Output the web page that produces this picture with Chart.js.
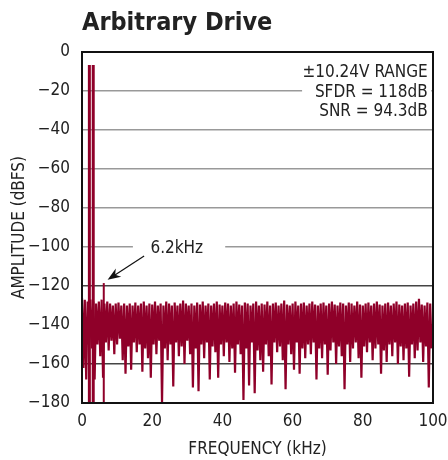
<!DOCTYPE html>
<html>
<head>
<meta charset="utf-8">
<script src="https://cdn.jsdelivr.net/npm/chart.js@4.4.1/dist/chart.umd.min.js"></script>
<style>
  body { margin: 0; background: #fff; }
</style>
</head>
<body>
<canvas id="fft" width="448" height="460"></canvas>
<script>
// spectrum: noise floor bins (0.4 kHz apart), alternating upper / lower excursions
const binWidth = 0.4
const noise = [
  -126, -162, -127, -168, -128, -150, -127, -152, -128, -168,
  -129, -150, -128, -156, -127, -167, -129, -149, -128, -153,
  -129, -148, -130, -155, -129, -150, -128.5, -147, -130, -158,
  -129, -165, -130, -151, -129, -163, -130, -149, -128.5, -154,
  -130, -150, -129, -164, -128, -152, -130, -157, -129, -167,
  -129.5, -150, -128, -155, -130, -148, -129, -180, -130, -152,
  -128, -158, -129, -150, -130, -171.5, -128.5, -149, -130, -156,
  -129, -151, -127.5, -160, -129, -148, -130, -155, -129, -172,
  -130, -152, -128.5, -174, -129.5, -150, -128, -157, -130, -149,
  -129, -168, -130, -151, -129, -154, -128, -167, -129.5, -150,
  -130, -156, -128.5, -149, -129, -159, -130, -152, -129, -164.5,
  -128, -150, -129.5, -155, -130, -178.5, -128.5, -152, -129, -171,
  -130, -149, -129, -175, -128, -153, -130, -158, -129, -164,
  -129.5, -150, -128, -156, -130, -170.5, -129, -149, -128.5, -154,
  -130, -151, -129, -158, -127.5, -173, -129.5, -150, -130, -155,
  -129, -163, -128, -149, -130, -165, -129, -152, -128.5, -157,
  -130, -150, -129, -155, -128, -149, -129.5, -168, -130, -152,
  -129, -157, -128.5, -150, -130, -165.5, -129, -153, -128, -149,
  -129.5, -160, -130, -151, -128.5, -156, -129, -173, -130, -150,
  -128.5, -159, -129, -152, -130, -149, -128, -157, -129.5, -167,
  -130, -151, -129, -154, -128.5, -149, -130, -158, -129, -152,
  -128, -150, -129.5, -165, -130, -153, -129, -159, -128.5, -150,
  -130, -156, -129, -149, -128, -160, -129.5, -151, -130, -158,
  -129, -152, -128.5, -166.5, -130, -150, -129, -157, -128, -153,
  -126.5, -149, -129.5, -159, -130, -151, -128.5, -172, -129, -152
]

// the two drive tones and the largest spur
const toneFreqs = [2.1, 3.2]
const toneLevels = [-6.7, -6.7]
const spurFreqs = [6.2]
const spurLevels = [-118.5]

const xTicks = [0, 20, 40, 60, 80, 100]
const yTicks = [0, -20, -40, -60, -80, -100, -120, -140, -160, -180]
const noteLines = ['±10.24V RANGE', 'SFDR = 118dB', 'SNR = 94.3dB']
const spurNote = '6.2kHz'

const RED = '#8f0029'
const FONT = '"Liberation Sans Narrow", "DejaVu Sans Condensed", "Liberation Sans", sans-serif'

const noisePts = noise.map((v, i) => ({ x: i * binWidth, y: v }))
function sticks(freqs, levels) {
  const pts = []
  freqs.forEach((f, i) => {
    pts.push({ x: f, y: -180 }, { x: f, y: levels[i] }, { x: f, y: null })
  })
  return pts
}

const notes = {
  id: 'notes',
  beforeDatasetsDraw(chart) {
    const { ctx, scales: { x, y } } = chart
    ctx.save()
    ctx.fillStyle = '#fff'
    // white boxes that interrupt the grid lines
    ctx.fillRect(x.getPixelForValue(62.7), y.getPixelForValue(-1.5), x.getPixelForValue(99.5) - x.getPixelForValue(62.7), y.getPixelForValue(-35) - y.getPixelForValue(-1.5))
    ctx.fillRect(x.getPixelForValue(14.5), y.getPixelForValue(-95), x.getPixelForValue(40.8) - x.getPixelForValue(14.5), y.getPixelForValue(-106) - y.getPixelForValue(-95))
    ctx.restore()
  },
  afterDatasetsDraw(chart) {
    const { ctx, chartArea: a, scales: { x, y } } = chart
    ctx.save()
    // frame
    ctx.strokeStyle = '#111'
    ctx.lineWidth = 2
    ctx.strokeRect(a.left, a.top, a.right - a.left, a.bottom - a.top)

    ctx.fillStyle = '#222'
    ctx.font = '17px ' + FONT
    ctx.textAlign = 'right'
    ctx.textBaseline = 'alphabetic'
    const baseY = [-12.8, -23.1, -32.8]
    noteLines.forEach((t, i) => ctx.fillText(t, x.getPixelForValue(98.5), y.getPixelForValue(baseY[i])))

    ctx.textAlign = 'center'
    ctx.textBaseline = 'middle'
    ctx.fillText(spurNote, x.getPixelForValue(27), y.getPixelForValue(-101))

    // arrow to the spur
    const x0 = x.getPixelForValue(17.7), y0 = y.getPixelForValue(-104.6)
    const x1 = x.getPixelForValue(7.3), y1 = y.getPixelForValue(-116.8)
    const ang = Math.atan2(y1 - y0, x1 - x0)
    ctx.strokeStyle = '#111'
    ctx.lineWidth = 1.2
    ctx.beginPath()
    ctx.moveTo(x0, y0)
    ctx.lineTo(x1 - 6 * Math.cos(ang), y1 - 6 * Math.sin(ang))
    ctx.stroke()
    ctx.beginPath()
    ctx.moveTo(x1, y1)
    ctx.lineTo(x1 - 13 * Math.cos(ang) + 5 * Math.sin(ang), y1 - 13 * Math.sin(ang) - 5 * Math.cos(ang))
    ctx.lineTo(x1 - 9 * Math.cos(ang), y1 - 9 * Math.sin(ang))
    ctx.lineTo(x1 - 13 * Math.cos(ang) - 5 * Math.sin(ang), y1 - 13 * Math.sin(ang) + 5 * Math.cos(ang))
    ctx.closePath()
    ctx.fillStyle = '#111'
    ctx.fill()

    // title
    ctx.fillStyle = '#222'
    ctx.textAlign = 'left'
    ctx.textBaseline = 'alphabetic'
    ctx.font = 'bold 25px ' + FONT
    ctx.fillText('Arbitrary Drive', a.left, 30)
    ctx.restore()
  }
}

new Chart(document.getElementById('fft'), {
  type: 'line',
  data: {
    datasets: [
      { data: noisePts, borderColor: RED, borderWidth: 2.2, pointRadius: 0, tension: 0 },
      { data: sticks(toneFreqs, toneLevels), borderColor: RED, borderWidth: 3, pointRadius: 0, borderCapStyle: 'butt' },
      { data: sticks(spurFreqs, spurLevels), borderColor: RED, borderWidth: 2, pointRadius: 0, borderCapStyle: 'butt' }
    ]
  },
  options: {
    responsive: false,
    animation: false,
    devicePixelRatio: 1,
    layout: { padding: { top: 52, right: 15, left: 0, bottom: 0 } },
    plugins: { legend: { display: false }, tooltip: { enabled: false } },
    scales: {
      x: {
        type: 'linear', min: 0, max: 100,
        afterBuildTicks: s => { s.ticks = xTicks.map(v => ({ value: v })) },
        afterFit: s => { s.height = 57; s.paddingLeft = 0; s.paddingRight = 0 },
        ticks: { color: '#222', font: { family: FONT, size: 17 }, padding: 8, maxRotation: 0 },
        grid: { display: false, drawTicks: false },
        border: { display: false },
        title: { display: true, text: 'FREQUENCY (kHz)', color: '#222', font: { family: FONT, size: 17 }, padding: { top: 4, bottom: 0 } }
      },
      y: {
        min: -180, max: 0,
        afterBuildTicks: s => { s.ticks = yTicks.map(v => ({ value: v })) },
        afterFit: s => { s.width = 82; s.paddingTop = 0; s.paddingBottom = 0 },
        ticks: { color: '#222', font: { family: FONT, size: 17 }, padding: 12, callback: v => String(v).replace('-', '\u2212') },
        grid: {
          drawTicks: false, lineWidth: 1.5,
          color: c => (c.tick.value === 0 || c.tick.value === -180) ? 'rgba(0,0,0,0)' : (c.tick.value <= -120 ? '#444' : '#999')
        },
        border: { display: false },
        title: { display: true, text: 'AMPLITUDE (dBFS)', color: '#222', font: { family: FONT, size: 17 }, padding: { top: 9, bottom: 0 } }
      }
    }
  },
  plugins: [notes]
})
</script>
</body>
</html>
